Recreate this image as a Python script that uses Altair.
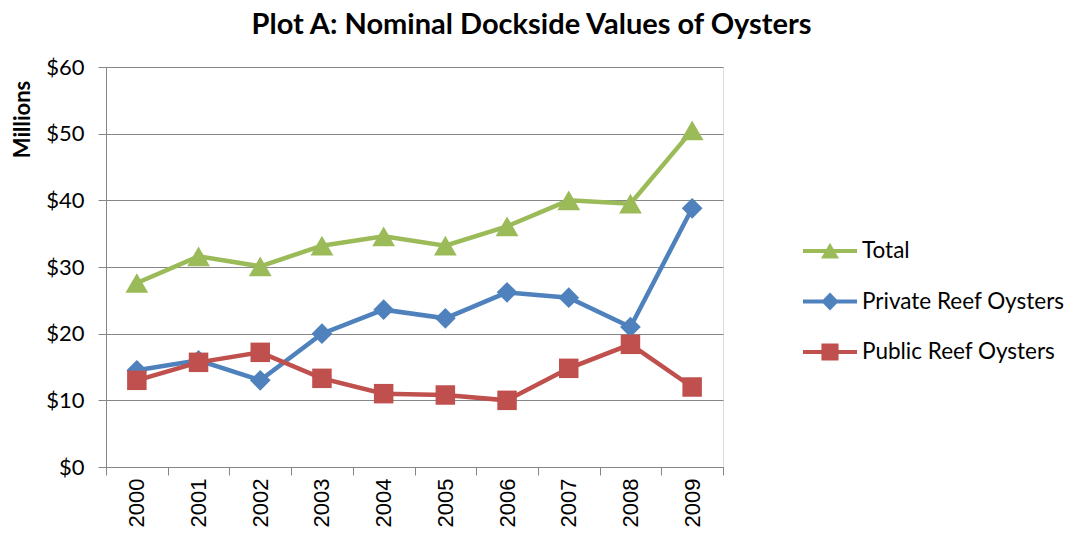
import altair as alt
import pandas as pd

years = ["2000", "2001", "2002", "2003", "2004", "2005", "2006", "2007", "2008", "2009"]
total = [27.6, 31.6, 30.1, 33.2, 34.6, 33.2, 36.1, 40.0, 39.5, 50.5]
private = [14.5, 16.0, 13.0, 20.0, 23.6, 22.3, 26.2, 25.4, 21.0, 38.8]
public = [13.0, 15.7, 17.2, 13.3, 11.0, 10.8, 10.0, 14.8, 18.4, 12.0]

series_names = ["Total", "Private Reef Oysters", "Public Reef Oysters"]
series_colors = ["#9BBB59", "#4F81BD", "#C0504D"]
series_shapes = ["triangle-up", "diamond", "square"]
series_sizes = [520, 430, 380]

# legend glyphs: line with marker (custom paths, unit = sqrt(size)/2 px)
legend_paths = [
    "M-1.8,-0.13 L1.8,-0.13 L1.8,0.13 L-1.8,0.13 Z M-0.6,0.5 L0,-0.55 L0.6,0.5 Z",
    "M-1.8,-0.13 L1.8,-0.13 L1.8,0.13 L-1.8,0.13 Z M-0.58,0 L0,-0.6 L0.58,0 L0,0.6 Z",
    "M-1.8,-0.13 L1.8,-0.13 L1.8,0.13 L-1.8,0.13 Z M-0.57,-0.57 L0.57,-0.57 L0.57,0.57 L-0.57,0.57 Z",
]

values = {"Total": total, "Private Reef Oysters": private, "Public Reef Oysters": public}
rows = []
for name in series_names:
    for y, v in zip(years, values[name]):
        rows.append({"year": y, "value": v, "series": name})
df = pd.DataFrame(rows)

x_enc = alt.X(
    "year:O",
    bandPosition=0.5,
    scale=alt.Scale(type="band", paddingInner=0, paddingOuter=0),
    axis=alt.Axis(
        title=None,
        labelAngle=-90,
        labelAlign="right",
        labelBaseline="middle",
        labelFont="Liberation Sans",
        labelFontSize=22,
        labelColor="#000000",
        labelPadding=3,
        tickBand="extent",
        ticks=True,
        tickSize=8,
        tickColor="#868686",
        domainColor="#868686",
        grid=False,
    ),
)
y_enc = alt.Y(
    "value:Q",
    scale=alt.Scale(domain=[0, 60], nice=False),
    axis=alt.Axis(
        values=[0, 10, 20, 30, 40, 50, 60],
        labelExpr="'$' + datum.value",
        labelFont="Lato",
        labelFontSize=22,
        labelColor="#000000",
        labelPadding=14,
        tickSize=8,
        tickColor="#868686",
        domainColor="#868686",
        gridColor="#868686",
        title="Millions",
        titleFont="Lato",
        titleFontSize=22,
        titleFontWeight="bold",
        titleColor="#000000",
        titleAngle=-90,
        titleX=-84,
        titleY=52,
        titleAlign="center",
        titleBaseline="middle",
    ),
)

base = alt.Chart(df)
draw_order = ["Private Reef Oysters", "Public Reef Oysters", "Total"]
layers = []
for name in draw_order:
    i = series_names.index(name)
    sub = base.transform_filter(alt.datum.series == name)
    layers.append(
        sub.mark_line(strokeWidth=4.5, color=series_colors[i]).encode(x=x_enc, y=y_enc)
    )
    layers.append(
        sub.mark_point(
            filled=True,
            opacity=1,
            color=series_colors[i],
            shape=series_shapes[i],
            size=series_sizes[i],
        ).encode(x=x_enc, y=y_enc)
    )

legend_layer = base.transform_filter("datum.value < -1000").mark_point(
    filled=True, opacity=1
).encode(
    x=x_enc,
    y=y_enc,
    color=alt.Color(
        "series:N",
        scale=alt.Scale(domain=series_names, range=series_colors),
        legend=alt.Legend(
            title=None,
            orient="none",
            legendX=709,
            legendY=169,
            symbolSize=900,
            symbolStrokeWidth=0,
            symbolOpacity=1,
            labelFont="Lato",
            labelFontSize=22.5,
            labelColor="#000000",
            labelOffset=17,
            rowPadding=23.5,
            labelLimit=400,
        ),
    ),
    shape=alt.Shape(
        "series:N",
        scale=alt.Scale(domain=series_names, range=legend_paths),
    ),
)
layers.append(legend_layer)

chart = alt.layer(*layers).properties(
    width=617,
    height=400,
    autosize=alt.AutoSizeParams(type="none"),
    padding={"left": 98, "top": 59, "right": 350, "bottom": 64},
    title=alt.Title(
        "Plot A: Nominal Dockside Values of Oysters",
        font="Lato",
        fontSize=29,
        fontWeight="bold",
        color="#000000",
        anchor="middle",
        dx=117,
        offset=16,
    ),
).configure_view(stroke=None).configure(background="white")

chart.save("out.html", embed_options={"renderer": "svg", "actions": False})
